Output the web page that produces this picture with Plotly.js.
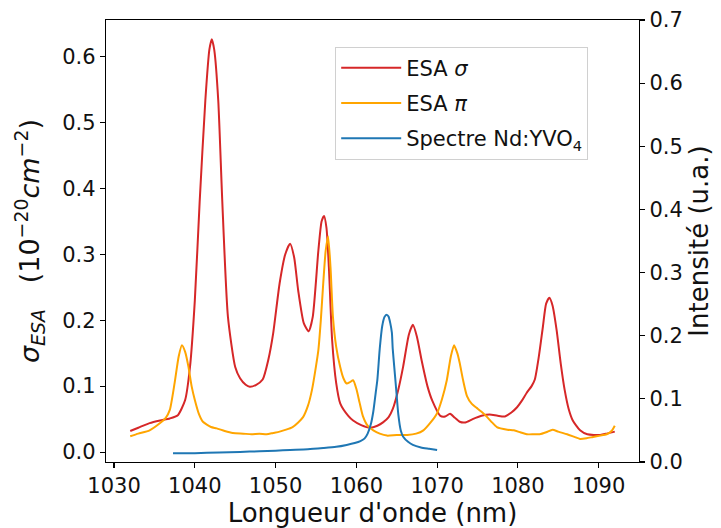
<!DOCTYPE html>
<html>
<head>
<meta charset="utf-8">
<script src="https://cdn.plot.ly/plotly-3.0.1.min.js"></script>
<style>html,body{margin:0;padding:0;background:#fff;}#chart{width:721px;height:528px;}</style>
</head>
<body>
<div id="chart"></div>
<script>
// ESA sigma (left axis, 1e-20 cm^-2)
const sigmaWl = [1032,1033,1034.4,1035.7,1036.9,1037.9,1038.8,1039.4,1040.0,1040.6,1041.3,1041.8,1042.1,1042.4,1042.9,1043.4,1044.1,1045.0,1045.6,1046.3,1046.8,1047.6,1048.4,1049.1,1049.7,1050.5,1051.2,1051.8,1052.3,1052.8,1053.5,1054.1,1054.6,1055.3,1055.7,1056.0,1056.3,1056.6,1057.0,1057.5,1058.0,1059.0,1059.6,1060.6,1061.7,1062.6,1063.3,1064.0,1064.5,1065.2,1065.8,1066.5,1067.0,1067.5,1068.1,1068.8,1069.4,1070.4,1071.0,1071.6,1072.2,1072.8,1073.5,1074.4,1075.5,1076.5,1077.5,1078.4,1079.2,1079.9,1080.5,1081.1,1081.7,1082.1,1082.6,1083.1,1083.5,1083.9,1084.3,1084.8,1085.3,1085.8,1086.3,1086.8,1087.7,1088.6,1090.2,1091.0,1092.0];
const sigmaVal = [0.032,0.037,0.044,0.048,0.051,0.056,0.079,0.129,0.23,0.38,0.533,0.61,0.626,0.61,0.533,0.38,0.205,0.129,0.112,0.102,0.099,0.102,0.11,0.14,0.18,0.256,0.30,0.316,0.295,0.245,0.195,0.183,0.205,0.306,0.35,0.358,0.34,0.28,0.17,0.105,0.074,0.055,0.048,0.041,0.037,0.04,0.045,0.053,0.065,0.095,0.13,0.178,0.193,0.175,0.138,0.1,0.078,0.055,0.054,0.058,0.052,0.046,0.045,0.05,0.055,0.057,0.055,0.054,0.06,0.068,0.078,0.09,0.1,0.11,0.145,0.19,0.225,0.234,0.222,0.185,0.135,0.094,0.065,0.048,0.033,0.027,0.026,0.028,0.031];

// ESA pi (left axis)
const piWl = [1032,1033,1034.4,1035.7,1036.4,1036.9,1037.5,1038.0,1038.4,1038.8,1039.2,1039.6,1040.0,1040.5,1041.0,1042.0,1042.7,1043.7,1044.7,1046,1047,1048,1048.9,1049.7,1050.5,1051.3,1052.1,1052.8,1053.4,1054.0,1054.5,1055.0,1055.3,1055.6,1055.9,1056.2,1056.5,1056.8,1057.1,1057.5,1058.0,1058.4,1058.8,1059.2,1059.6,1060.0,1060.4,1060.8,1061.4,1062.1,1062.9,1063.8,1065,1066.3,1067.4,1068.3,1069.2,1070.0,1070.6,1071.2,1071.7,1072.1,1072.5,1072.8,1073.2,1073.7,1074.3,1074.9,1075.5,1076.2,1076.8,1077.4,1078.7,1079.5,1080.3,1081.1,1082.0,1082.7,1083.5,1084.3,1085.0,1086.1,1087,1087.7,1088.5,1089.3,1090.2,1091.0,1091.6,1092.0];
const piVal = [0.024,0.028,0.033,0.044,0.052,0.064,0.105,0.145,0.162,0.152,0.13,0.1,0.079,0.058,0.046,0.038,0.036,0.032,0.029,0.028,0.027,0.028,0.027,0.029,0.031,0.034,0.038,0.045,0.053,0.07,0.094,0.13,0.155,0.2,0.256,0.305,0.327,0.28,0.205,0.16,0.129,0.112,0.104,0.106,0.109,0.096,0.075,0.055,0.04,0.033,0.028,0.025,0.026,0.026,0.028,0.033,0.045,0.059,0.08,0.109,0.145,0.162,0.15,0.135,0.11,0.085,0.073,0.067,0.061,0.053,0.045,0.038,0.034,0.033,0.030,0.027,0.027,0.027,0.03,0.034,0.031,0.027,0.023,0.02,0.021,0.023,0.025,0.027,0.032,0.04];

// Nd:YVO4 spectrum (right axis, a.u.)
const specWl = [1037.3,1040,1043,1045.6,1048,1050,1051.8,1054,1055.9,1057.5,1058.8,1059.8,1060.5,1061.0,1061.4,1061.8,1062.1,1062.4,1062.6,1062.9,1063.2,1063.5,1063.8,1064.0,1064.2,1064.4,1064.5,1064.7,1064.9,1065.2,1065.5,1065.8,1066.4,1067.0,1068,1069,1070.0];
const specVal = [0.014,0.014,0.015,0.016,0.017,0.018,0.019,0.02,0.022,0.024,0.027,0.03,0.033,0.037,0.045,0.06,0.08,0.11,0.13,0.18,0.215,0.23,0.233,0.23,0.22,0.205,0.18,0.15,0.12,0.075,0.05,0.04,0.032,0.027,0.023,0.021,0.019];

const xTicks = [1030,1040,1050,1060,1070,1080,1090];
const yTicks = [0.0,0.1,0.2,0.3,0.4,0.5,0.6];
const y2Ticks = [0.0,0.1,0.2,0.3,0.4,0.5,0.6,0.7];

const font = 'DejaVu Sans, sans-serif';

const traces = [
  {x: sigmaWl, y: sigmaVal, type: 'scatter', mode: 'lines', name: 'ESA <i>σ</i>', legendgroup: 'a',
   line: {color: '#d62728', width: 2, shape: 'spline', smoothing: 0.6}},
  {x: piWl, y: piVal, type: 'scatter', mode: 'lines', name: 'ESA <i>π</i>', legendgroup: 'b',
   line: {color: '#ffa500', width: 2, shape: 'spline', smoothing: 0.6}},
  {x: specWl, y: specVal, type: 'scatter', mode: 'lines', name: 'Spectre Nd:YVO<sub>4</sub>', yaxis: 'y2', legendgroup: 'c',
   line: {color: '#1f77b4', width: 2, shape: 'spline', smoothing: 0.6}}
];

const axisCommon = {
  showgrid: false, zeroline: false, showline: true, linecolor: '#000', linewidth: 1.2,
  ticks: 'outside', ticklen: 5, tickwidth: 1.2, tickcolor: '#000',
  tickfont: {family: font, size: 21, color: '#111'}
};

const layout = {
  width: 721, height: 528,
  margin: {l: 106, r: 82, t: 20, b: 66, pad: 0},
  paper_bgcolor: '#fff', plot_bgcolor: '#fff',
  showlegend: true,
  legend: {x: 0.43, y: 0.94, xanchor: 'left', yanchor: 'top',
    bgcolor: 'rgba(255,255,255,0.8)', bordercolor: '#d0d0d0', borderwidth: 1,
    font: {family: font, size: 21, color: '#111'}, tracegroupgap: 5, itemwidth: 60},
  xaxis: Object.assign({}, axisCommon, {
    range: [1029, 1095], tickvals: xTicks, ticktext: xTicks.map(String), mirror: true,
    title: {text: "Longueur d'onde (nm)", font: {family: font, size: 26, color: '#111'}, standoff: 4}
  }),
  yaxis: Object.assign({}, axisCommon, {
    range: [-0.015, 0.655], tickvals: yTicks, ticktext: yTicks.map(v => v.toFixed(1)),
    title: {text: '<i>σ</i><sub><i>ESA</i></sub>   (10<sup>−20</sup><i>cm</i><sup>−2</sup>)',
      font: {family: font, size: 27, color: '#111'}, standoff: 14}
  }),
  yaxis2: Object.assign({}, axisCommon, {
    overlaying: 'y', side: 'right', range: [0, 0.7],
    tickvals: y2Ticks, ticktext: y2Ticks.map(v => v.toFixed(1)),
    title: {text: 'Intensité (u.a.)', font: {family: font, size: 26, color: '#111'}, standoff: 8}
  })
};

Plotly.newPlot('chart', traces, layout, {displayModeBar: false, staticPlot: true});
</script>
</body>
</html>
